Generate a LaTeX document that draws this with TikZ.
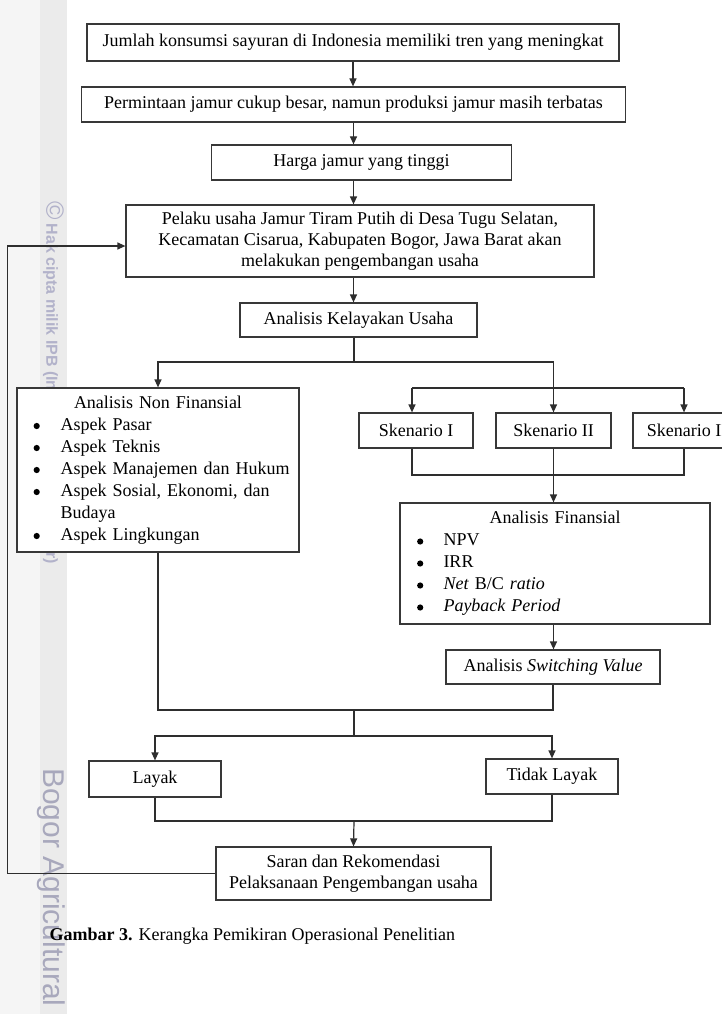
\documentclass[tikz,border=0pt]{standalone}
\usepackage{fontspec}
\setmainfont{Liberation Serif}
\newfontfamily\wmfont{Liberation Sans}
\usetikzlibrary{arrows.meta}
\definecolor{stripA}{RGB}{245,245,245}
\definecolor{stripB}{RGB}{235,235,235}
\definecolor{wmcol}{RGB}{178,178,202}
\definecolor{wmcolB}{RGB}{168,168,188}
\newcommand\bigbul{\tikz[baseline=-4.3pt]\fill[black] (0pt,0pt) circle[radius=3.1pt];}
\newcommand\bltA[1]{\par\noindent\makebox[29.6pt][l]{\hspace{2.6pt}\bigbul}\mbox{#1}}
\newcommand\bltB[1]{\par\noindent\makebox[26.5pt][l]{\hspace{0.1pt}\bigbul}\mbox{#1}}
\begin{document}
\begin{tikzpicture}[x=1pt,y=-1pt,
  box/.style={draw=black!78, line width=1.2pt, fill=white, inner sep=0pt, align=center,
    font=\fontsize{18}{20.7}\selectfont},
  listbox/.style={box, align=left, font=\fontsize{18}{22}\selectfont},
  conn/.style={draw=black!82, line width=1.2pt},
  arr/.style={conn, -{Triangle[length=8pt,width=7pt]}},
  wm/.style={font=\wmfont, inner sep=0pt, rotate=-90, anchor=west},
]
\useasboundingbox (0,0) rectangle (722,1014);
\clip (0,0) rectangle (722,1014);

% watermark strip
\fill[stripA] (0,0) rectangle (40,1014);
\fill[stripB] (40,0) rectangle (67,1014);
\node[wm, text=wmcol] (wm1) at (53.5,201) {{\fontsize{25}{25}\selectfont\textcopyright}\hspace{4pt}{\fontsize{16}{16}\selectfont\bfseries Hak cipta milik IPB (Institut Pertanian Bogor)}};
\node[wm, text=wmcolB, font=\wmfont\fontsize{30}{30}\selectfont] (wm2) at (51,768) {Bogor Agricultural};

% boxes
\node[box, minimum width=532pt, minimum height=37pt] (b1) at (353,42.5)
  {Jumlah konsumsi sayuran di Indonesia memiliki tren yang meningkat};
\node[box, minimum width=544pt, minimum height=35pt] (b2) at (353.5,104.5)
  {Permintaan jamur cukup besar, namun produksi jamur masih terbatas};
\node[box, minimum width=300pt, minimum height=35pt] (b3) at (361.5,162.5)
  {Harga jamur yang tinggi};
\node[box, minimum width=468pt, minimum height=72pt] (b4) at (360,241)
  {Pelaku usaha Jamur Tiram Putih di Desa Tugu Selatan,\\
   Kecamatan Cisarua, Kabupaten Bogor, Jawa Barat akan\\
   melakukan pengembangan usaha};
\node[box, minimum width=237pt, minimum height=34pt] (b5) at (358.5,320)
  {Analisis Kelayakan Usaha};

\node[listbox, text width=254pt, inner xsep=14pt, minimum height=164pt] (nonfin) at (158,470)
  {\noindent\makebox[254pt][c]{Analisis Non Finansial}
   \bltA{Aspek Pasar}
   \bltA{Aspek Teknis}
   \bltA{Aspek Manajemen dan Hukum}
   \bltA{\makebox[224.4pt][s]{Aspek Sosial, Ekonomi, dan}}
   \par\noindent\hspace*{29.6pt}Budaya
   \bltA{Aspek Lingkungan}};

\node[box, minimum width=114pt, minimum height=35pt] (sk1) at (416,430.5) {Skenario I};
\node[box, minimum width=115pt, minimum height=35pt] (sk2) at (553.5,430.5) {Skenario II};
\node[box, minimum width=114pt, minimum height=35pt] (sk3) at (690,430.5) {Skenario III};

\node[listbox, text width=276pt, inner xsep=17pt, minimum height=121pt] (fin) at (555,563.5)
  {\noindent\makebox[276pt][c]{Analisis Finansial}
   \bltB{NPV}
   \bltB{IRR}
   \bltB{\textit{Net} B/C \textit{ratio}}
   \bltB{\textit{Payback Period}}};

\node[box, minimum width=214pt, minimum height=34pt] (sv) at (553,667)
  {Analisis \textit{Switching Value}};

\node[box, minimum width=132pt, minimum height=36pt] (layak) at (155,779) {Layak};
\node[box, minimum width=132pt, minimum height=35pt] (tlayak) at (552,776.5) {Tidak Layak};

\node[box, minimum width=275pt, minimum height=53pt, font=\fontsize{18}{21}\selectfont] (saran) at (353.5,873.5)
  {Saran dan Rekomendasi\\ Pelaksanaan Pengembangan usaha};

\node[anchor=base west, inner sep=0pt, font=\fontsize{18}{21}\selectfont] (cap) at (49.5,940.5)
  {\textbf{Gambar 3.} Kerangka Pemikiran Operasional Penelitian};

% junction coordinates
\coordinate (split) at (354,362);
\coordinate (s1) at (412,388);
\coordinate (s3) at (684,388);
\coordinate (j1) at (412,475);
\coordinate (j3) at (684,475);
\coordinate (mj) at (354,710);
\coordinate (lj) at (354,736);
\coordinate (bj) at (354,821);
\coordinate (fb) at (7.7,246);

% connectors
\draw[arr] (b1.south) -- (b1.south |- b2.north);
\draw[arr] (b2.south) -- (b2.south |- b3.north);
\draw[arr] (b2.south |- b3.south) -- (b2.south |- b4.north);
\draw[arr] (b2.south |- b4.south) -- (b2.south |- b5.north);
\draw[conn] (split |- b5.south) -- (split);
\draw[arr] (split) -| (nonfin.north);
\draw[arr] (split) -| (sk2.north);
\draw[conn] (s1) -- (s3);
\draw[arr] (s1) -- (s1 |- sk1.north);
\draw[arr] (s3) -- (s3 |- sk3.north);
\draw[conn] (s1 |- sk1.south) -- (j1) -- (j3) -- (s3 |- sk3.south);
\draw[arr] (sk2.south) -- (sk2.south |- fin.north);
\draw[arr] (sk2.south |- fin.south) -- (sk2.south |- sv.north);
\draw[conn] (nonfin.south) |- (mj) -| (sv.south);
\draw[conn] (mj) -- (lj);
\draw[arr] (lj) -| (layak.north);
\draw[arr] (lj) -| (tlayak.north);
\draw[conn] (layak.south) |- (bj) -| (tlayak.south);
\draw[arr] (bj) -- (saran.north);
\draw[arr] (saran.west) -| (fb) -- (fb -| b4.west);
\end{tikzpicture}
\end{document}
